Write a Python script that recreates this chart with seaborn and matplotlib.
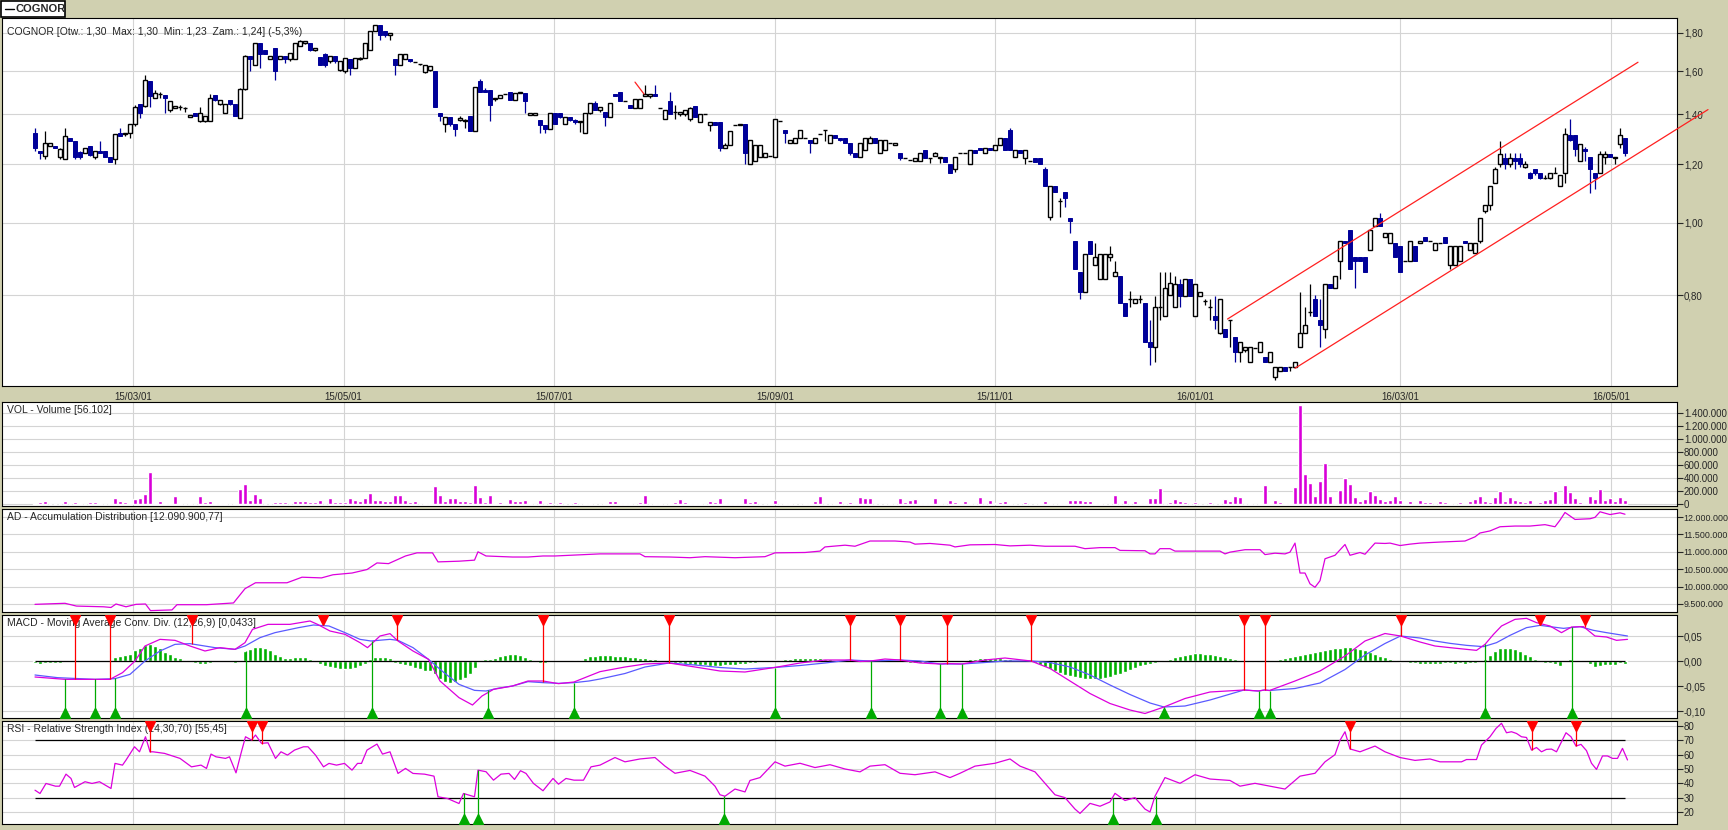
"""
COGNOR - wykres swiecowy z panelami VOL, AD, MACD, RSI
"""
import numpy as np
import matplotlib
matplotlib.use('Agg')
import matplotlib.pyplot as plt
import seaborn as sns
from matplotlib.ticker import NullLocator
from matplotlib.patches import Rectangle

sns.set_style('white')
plt.rcParams['font.family'] = ['Liberation Sans', 'DejaVu Sans']

# ---------------- dane ----------------
opens = [
    1.32, 1.25, 1.23, 1.27, 1.27, 1.225, 1.22, 1.30, 1.29, 1.245,
    1.24, 1.27, 1.225, 1.25, 1.25, 1.225, 1.22, 1.32, 1.315, 1.32,
    1.359, 1.446, 1.434, 1.549, 1.471, 1.49, 1.486, 1.42, 1.427, 1.43,
    1.427, 1.388, 1.406, 1.372, 1.372, 1.372, 1.486, 1.446, 1.406, 1.464,
    1.446, 1.385, 1.513, 1.675, 1.632, 1.745, 1.71, 1.658, 1.719, 1.662,
    1.675, 1.658, 1.658, 1.727, 1.745, 1.745, 1.707, 1.672, 1.684, 1.649,
    1.675, 1.603, 1.598, 1.658, 1.615, 1.658, 1.667, 1.71, 1.81, 1.844,
    1.81, 1.786, 1.658, 1.632, 1.662, 1.662, 1.646, 1.637, 1.593, 1.603,
    1.598, 1.406, 1.359, 1.388, 1.359, 1.376, 1.37, 1.392, 1.329, 1.549,
    1.509, 1.509, 1.467, 1.471, 1.49, 1.501, 1.464, 1.494, 1.494, 1.395,
    1.395, 1.376, 1.352, 1.339, 1.406, 1.406, 1.359, 1.388, 1.376, 1.366,
    1.32, 1.406, 1.449, 1.42, 1.41, 1.386, 1.491, 1.50, 1.46, 1.441,
    1.426, 1.426, 1.482, 1.482, 1.491, 1.426, 1.379, 1.46, 1.41, 1.40,
    1.40, 1.379, 1.437, 1.366, 1.40, 1.356, 1.366, 1.366, 1.261, 1.271,
    1.352, 1.355, 1.359, 1.199, 1.211, 1.228, 1.228, 1.231, 1.228, 1.37,
    1.332, 1.28, 1.28, 1.30, 1.30, 1.293, 1.28, 1.318, 1.335, 1.28,
    1.313, 1.30, 1.30, 1.28, 1.241, 1.228, 1.254, 1.28, 1.30, 1.241,
    1.254, 1.28, 1.271, 1.241, 1.221, 1.215, 1.211, 1.211, 1.254, 1.221,
    1.231, 1.221, 1.228, 1.199, 1.181, 1.241, 1.241, 1.199, 1.254, 1.261,
    1.241, 1.261, 1.254, 1.273, 1.30, 1.332, 1.228, 1.254, 1.221, 1.211,
    1.221, 1.221, 1.181, 1.02, 1.12, 1.07, 1.10, 1.017, 0.947, 0.86,
    0.808, 0.947, 0.879, 0.84, 0.84, 0.90, 0.85, 0.85, 0.781, 0.791,
    0.781, 0.791, 0.781, 0.692, 0.681, 0.771, 0.751, 0.80, 0.771, 0.829,
    0.799, 0.84, 0.751, 0.799, 0.785, 0.771, 0.751, 0.712, 0.721, 0.741,
    0.702, 0.671, 0.676, 0.651, 0.68, 0.671, 0.661, 0.651, 0.622, 0.632,
    0.641, 0.641, 0.641, 0.681, 0.712, 0.76, 0.791, 0.741, 0.721, 0.829,
    0.819, 0.888, 0.947, 0.978, 0.90, 0.90, 0.90, 0.92, 0.99, 1.017,
    0.958, 0.939, 0.939, 0.93, 0.888, 0.888, 0.93, 0.939, 0.958, 0.945,
    0.92, 0.939, 0.958, 0.879, 0.879, 0.888, 0.947, 0.92, 0.91, 0.947,
    1.039, 1.058, 1.133, 1.20, 1.221, 1.20, 1.221, 1.221, 1.19, 1.168,
    1.181, 1.168, 1.148, 1.148, 1.168, 1.122, 1.168, 1.311, 1.311, 1.211,
    1.258, 1.227, 1.168, 1.168, 1.227, 1.239, 1.221, 1.278, 1.30,
]
highs = [
    1.34, 1.25, 1.33, 1.28, 1.27, 1.26, 1.34, 1.30, 1.29, 1.25,
    1.26, 1.27, 1.25, 1.29, 1.25, 1.225, 1.318, 1.34, 1.32, 1.36,
    1.44, 1.446, 1.581, 1.549, 1.51, 1.50, 1.486, 1.46, 1.434, 1.44,
    1.43, 1.395, 1.406, 1.43, 1.392, 1.49, 1.486, 1.464, 1.446, 1.464,
    1.446, 1.52, 1.68, 1.675, 1.745, 1.745, 1.71, 1.675, 1.719, 1.675,
    1.675, 1.69, 1.745, 1.76, 1.754, 1.745, 1.719, 1.672, 1.69, 1.675,
    1.675, 1.649, 1.667, 1.66, 1.667, 1.67, 1.745, 1.81, 1.844, 1.844,
    1.81, 1.80, 1.66, 1.688, 1.684, 1.662, 1.646, 1.637, 1.632, 1.627,
    1.598, 1.406, 1.388, 1.388, 1.359, 1.39, 1.38, 1.392, 1.525, 1.56,
    1.52, 1.51, 1.471, 1.486, 1.49, 1.501, 1.494, 1.501, 1.494, 1.406,
    1.406, 1.376, 1.352, 1.406, 1.406, 1.406, 1.388, 1.388, 1.38, 1.372,
    1.406, 1.449, 1.46, 1.43, 1.41, 1.449, 1.491, 1.50, 1.46, 1.441,
    1.468, 1.468, 1.531, 1.491, 1.53, 1.426, 1.417, 1.50, 1.44, 1.41,
    1.417, 1.43, 1.437, 1.40, 1.40, 1.366, 1.366, 1.366, 1.28, 1.33,
    1.352, 1.359, 1.359, 1.293, 1.273, 1.273, 1.241, 1.231, 1.379, 1.37,
    1.332, 1.293, 1.30, 1.332, 1.30, 1.293, 1.30, 1.318, 1.335, 1.313,
    1.313, 1.30, 1.30, 1.28, 1.241, 1.28, 1.30, 1.31, 1.30, 1.293,
    1.293, 1.28, 1.28, 1.241, 1.221, 1.215, 1.221, 1.241, 1.254, 1.221,
    1.245, 1.228, 1.228, 1.199, 1.228, 1.241, 1.241, 1.254, 1.254, 1.261,
    1.261, 1.261, 1.273, 1.30, 1.30, 1.34, 1.254, 1.254, 1.254, 1.211,
    1.221, 1.221, 1.19, 1.12, 1.12, 1.08, 1.10, 1.017, 0.947, 0.86,
    0.908, 0.947, 0.939, 0.908, 0.908, 0.93, 0.888, 0.85, 0.781, 0.81,
    0.791, 0.80, 0.781, 0.741, 0.799, 0.859, 0.859, 0.859, 0.85, 0.84,
    0.84, 0.84, 0.829, 0.808, 0.79, 0.791, 0.799, 0.791, 0.721, 0.741,
    0.702, 0.692, 0.681, 0.681, 0.68, 0.692, 0.661, 0.671, 0.641, 0.641,
    0.641, 0.641, 0.651, 0.808, 0.771, 0.829, 0.80, 0.791, 0.829, 0.829,
    0.85, 0.947, 0.947, 0.978, 0.90, 0.90, 0.90, 0.978, 1.017, 1.03,
    0.968, 0.968, 0.939, 0.93, 0.888, 0.947, 0.93, 0.947, 0.958, 0.945,
    0.939, 0.939, 0.958, 0.93, 0.93, 0.93, 0.947, 0.939, 0.939, 1.017,
    1.058, 1.121, 1.19, 1.29, 1.24, 1.24, 1.24, 1.24, 1.21, 1.17,
    1.181, 1.168, 1.16, 1.168, 1.19, 1.16, 1.34, 1.38, 1.311, 1.278,
    1.265, 1.227, 1.168, 1.249, 1.25, 1.239, 1.227, 1.34, 1.30,
]
lows = [
    1.25, 1.22, 1.22, 1.27, 1.26, 1.22, 1.22, 1.29, 1.22, 1.22,
    1.24, 1.23, 1.22, 1.24, 1.225, 1.206, 1.20, 1.31, 1.31, 1.30,
    1.35, 1.385, 1.43, 1.431, 1.47, 1.47, 1.406, 1.41, 1.427, 1.42,
    1.41, 1.388, 1.392, 1.366, 1.366, 1.372, 1.46, 1.44, 1.406, 1.44,
    1.392, 1.385, 1.51, 1.598, 1.632, 1.615, 1.684, 1.658, 1.557, 1.66,
    1.64, 1.65, 1.658, 1.727, 1.74, 1.70, 1.70, 1.63, 1.62, 1.64,
    1.64, 1.60, 1.59, 1.581, 1.615, 1.655, 1.667, 1.71, 1.81, 1.762,
    1.78, 1.762, 1.581, 1.632, 1.66, 1.645, 1.646, 1.63, 1.59, 1.60,
    1.431, 1.37, 1.326, 1.35, 1.307, 1.37, 1.34, 1.329, 1.329, 1.50,
    1.50, 1.372, 1.46, 1.47, 1.49, 1.464, 1.464, 1.494, 1.406, 1.395,
    1.395, 1.32, 1.32, 1.339, 1.359, 1.385, 1.359, 1.37, 1.36, 1.326,
    1.32, 1.40, 1.42, 1.41, 1.348, 1.386, 1.482, 1.46, 1.46, 1.426,
    1.426, 1.426, 1.48, 1.47, 1.482, 1.426, 1.379, 1.40, 1.38, 1.39,
    1.39, 1.37, 1.389, 1.366, 1.40, 1.33, 1.355, 1.25, 1.261, 1.271,
    1.352, 1.355, 1.20, 1.199, 1.211, 1.228, 1.228, 1.231, 1.228, 1.37,
    1.28, 1.28, 1.28, 1.30, 1.30, 1.241, 1.28, 1.318, 1.29, 1.28,
    1.30, 1.29, 1.28, 1.235, 1.228, 1.228, 1.254, 1.28, 1.28, 1.241,
    1.254, 1.28, 1.271, 1.215, 1.221, 1.215, 1.211, 1.211, 1.221, 1.205,
    1.231, 1.205, 1.209, 1.168, 1.17, 1.241, 1.241, 1.199, 1.241, 1.254,
    1.241, 1.254, 1.254, 1.273, 1.254, 1.254, 1.228, 1.241, 1.20, 1.211,
    1.209, 1.199, 1.12, 1.01, 1.10, 1.02, 1.05, 0.968, 0.867, 0.791,
    0.808, 0.908, 0.879, 0.84, 0.84, 0.89, 0.85, 0.781, 0.751, 0.771,
    0.781, 0.781, 0.692, 0.645, 0.651, 0.741, 0.751, 0.80, 0.771, 0.771,
    0.799, 0.799, 0.751, 0.799, 0.775, 0.741, 0.721, 0.71, 0.702, 0.681,
    0.651, 0.651, 0.67, 0.651, 0.68, 0.671, 0.651, 0.651, 0.615, 0.632,
    0.632, 0.632, 0.641, 0.681, 0.712, 0.75, 0.751, 0.681, 0.70, 0.819,
    0.819, 0.84, 0.939, 0.867, 0.819, 0.888, 0.859, 0.92, 0.99, 0.99,
    0.958, 0.939, 0.90, 0.859, 0.888, 0.888, 0.888, 0.939, 0.947, 0.945,
    0.92, 0.939, 0.939, 0.867, 0.879, 0.888, 0.94, 0.92, 0.91, 0.94,
    1.03, 1.04, 1.133, 1.19, 1.18, 1.19, 1.18, 1.19, 1.185, 1.145,
    1.16, 1.145, 1.145, 1.145, 1.168, 1.12, 1.13, 1.29, 1.23, 1.211,
    1.21, 1.098, 1.11, 1.168, 1.20, 1.227, 1.20, 1.26, 1.23,
]
closes = [
    1.26, 1.24, 1.28, 1.28, 1.26, 1.257, 1.31, 1.29, 1.225, 1.225,
    1.26, 1.235, 1.25, 1.24, 1.225, 1.206, 1.318, 1.31, 1.32, 1.36,
    1.431, 1.406, 1.557, 1.479, 1.494, 1.49, 1.471, 1.456, 1.434, 1.43,
    1.427, 1.395, 1.392, 1.406, 1.392, 1.471, 1.464, 1.464, 1.446, 1.446,
    1.392, 1.513, 1.675, 1.658, 1.745, 1.684, 1.684, 1.675, 1.598, 1.675,
    1.658, 1.69, 1.745, 1.754, 1.754, 1.71, 1.719, 1.632, 1.632, 1.675,
    1.649, 1.649, 1.667, 1.615, 1.667, 1.667, 1.745, 1.81, 1.844, 1.786,
    1.786, 1.80, 1.632, 1.688, 1.684, 1.649, 1.646, 1.637, 1.632, 1.627,
    1.431, 1.392, 1.388, 1.359, 1.339, 1.385, 1.375, 1.329, 1.525, 1.501,
    1.501, 1.441, 1.471, 1.486, 1.49, 1.464, 1.494, 1.501, 1.456, 1.406,
    1.406, 1.352, 1.339, 1.406, 1.359, 1.388, 1.388, 1.376, 1.368, 1.372,
    1.406, 1.449, 1.42, 1.43, 1.386, 1.449, 1.482, 1.46, 1.46, 1.426,
    1.468, 1.468, 1.491, 1.491, 1.482, 1.426, 1.417, 1.40, 1.41, 1.41,
    1.417, 1.426, 1.389, 1.40, 1.40, 1.366, 1.355, 1.261, 1.271, 1.33,
    1.352, 1.359, 1.241, 1.293, 1.273, 1.273, 1.241, 1.231, 1.379, 1.37,
    1.32, 1.293, 1.30, 1.332, 1.30, 1.28, 1.30, 1.318, 1.335, 1.313,
    1.30, 1.293, 1.28, 1.241, 1.228, 1.28, 1.30, 1.30, 1.28, 1.293,
    1.293, 1.28, 1.28, 1.221, 1.221, 1.215, 1.221, 1.241, 1.221, 1.221,
    1.241, 1.228, 1.209, 1.168, 1.228, 1.241, 1.241, 1.254, 1.241, 1.254,
    1.261, 1.254, 1.273, 1.30, 1.254, 1.254, 1.254, 1.241, 1.254, 1.211,
    1.209, 1.199, 1.12, 1.12, 1.10, 1.07, 1.08, 1.006, 0.867, 0.808,
    0.908, 0.908, 0.90, 0.908, 0.908, 0.908, 0.859, 0.781, 0.751, 0.791,
    0.791, 0.791, 0.692, 0.681, 0.771, 0.771, 0.819, 0.83, 0.829, 0.799,
    0.84, 0.799, 0.829, 0.808, 0.785, 0.771, 0.741, 0.791, 0.702, 0.741,
    0.671, 0.692, 0.681, 0.681, 0.68, 0.692, 0.651, 0.671, 0.641, 0.641,
    0.632, 0.641, 0.651, 0.712, 0.730, 0.76, 0.751, 0.730, 0.829, 0.819,
    0.85, 0.947, 0.939, 0.867, 0.888, 0.888, 0.859, 0.978, 1.017, 0.99,
    0.968, 0.968, 0.90, 0.859, 0.888, 0.947, 0.888, 0.947, 0.947, 0.945,
    0.939, 0.939, 0.939, 0.93, 0.93, 0.93, 0.94, 0.939, 0.939, 1.017,
    1.058, 1.121, 1.181, 1.239, 1.20, 1.221, 1.211, 1.20, 1.20, 1.148,
    1.168, 1.148, 1.148, 1.168, 1.168, 1.16, 1.317, 1.294, 1.258, 1.278,
    1.249, 1.181, 1.148, 1.239, 1.239, 1.227, 1.227, 1.311, 1.24,
]

# wolumen w tys. sztuk
volume_k = [
    20, 26, 41, 0, 0, 0, 41, 0, 26, 15,
    0, 26, 26, 10, 0, 10, 92, 41, 26, 15,
    77, 92, 154, 492, 15, 41, 15, 15, 123, 15,
    0, 15, 0, 123, 26, 51, 15, 15, 15, 0,
    15, 231, 308, 62, 154, 92, 0, 0, 26, 26,
    26, 0, 51, 51, 51, 26, 26, 62, 0, 92,
    26, 26, 26, 92, 62, 41, 92, 169, 62, 62,
    41, 41, 139, 139, 62, 26, 51, 0, 15, 15,
    277, 139, 51, 92, 92, 41, 41, 26, 292, 103,
    26, 139, 15, 26, 15, 77, 51, 51, 62, 15,
    0, 62, 0, 26, 0, 26, 0, 0, 26, 0,
    15, 15, 0, 0, 15, 41, 41, 15, 15, 15,
    0, 26, 139, 0, 15, 15, 0, 15, 26, 77,
    26, 15, 15, 15, 0, 41, 26, 92, 15, 15,
    15, 15, 92, 26, 41, 0, 0, 15, 62, 0,
    15, 15, 0, 0, 15, 15, 41, 123, 0, 0,
    15, 41, 0, 26, 15, 103, 92, 92, 0, 0,
    0, 15, 0, 92, 26, 62, 77, 15, 15, 15,
    92, 15, 0, 62, 26, 15, 41, 15, 0, 103,
    0, 62, 15, 26, 41, 15, 0, 0, 26, 0,
    0, 15, 41, 15, 0, 15, 15, 62, 62, 62,
    41, 41, 15, 15, 0, 0, 139, 0, 62, 0,
    41, 15, 15, 92, 92, 246, 0, 26, 77, 41,
    26, 0, 26, 0, 0, 26, 0, 0, 77, 41,
    123, 103, 0, 15, 0, 15, 292, 15, 62, 26,
    15, 15, 262, 1524, 462, 323, 123, 354, 631, 123,
    15, 215, 400, 308, 108, 46, 77, 200, 139, 77,
    46, 62, 123, 62, 15, 46, 15, 62, 31, 31,
    0, 46, 31, 15, 0, 31, 15, 46, 77, 123,
    46, 31, 108, 200, 46, 108, 62, 46, 31, 62,
    15, 31, 62, 77, 200, 0, 292, 185, 92, 31,
    15, 123, 77, 231, 62, 92, 46, 108, 56.102,
]

# AD (mln) - punkty
ad_x = [0, 6, 8.3, 13.7, 15.2, 16.2, 18.2, 20.2, 22.1, 23.1, 27.4, 28.4, 34.3, 39.7,
        42, 44.1, 50.4, 53.4, 57.3, 59.6, 63.4, 66.4, 68.4, 70.7, 74.1, 76.4, 79.5,
        80.6, 84.8, 87.9, 88.6, 90.2, 95.5, 98.6, 101.6, 104, 113, 121, 122, 127,
        131, 134, 136, 140, 146, 148, 154, 157, 158, 162, 164, 167, 172, 175, 176,
        179, 183, 184, 187, 192, 195, 199, 202, 208, 210, 213, 216, 217, 222, 223,
        224, 225, 227, 228, 237, 238, 239, 242, 245, 246, 248, 250, 251, 252, 253,
        254, 255, 256, 257, 258, 260, 262, 263, 265, 266, 268, 270, 271, 273, 275,
        277, 281, 286, 288, 289, 291, 293, 296, 299, 302, 304, 305, 306, 308, 311,
        312, 313, 315, 317, 318]
ad_val = [9.49, 9.52, 9.44, 9.42, 9.40, 9.50, 9.42, 9.49, 9.50, 9.31, 9.33, 9.48, 9.48, 9.53,
          9.94, 10.11, 10.11, 10.27, 10.25, 10.34, 10.39, 10.49, 10.68, 10.66, 10.88, 10.97, 10.97,
          10.71, 10.73, 10.76, 11.00, 10.88, 10.85, 10.85, 10.88, 10.88, 10.94, 10.94, 10.86, 10.85,
          10.83, 10.86, 10.85, 10.83, 10.86, 10.97, 10.98, 11.02, 11.14, 11.19, 11.16, 11.31, 11.31, 11.28, 11.22,
          11.24, 11.19, 11.14, 11.20, 11.21, 11.17, 11.19, 11.16, 11.16, 11.09, 11.12, 11.12, 11.04, 11.03, 10.94,
          10.94, 11.09, 11.09, 11.02, 11.02, 10.94, 10.99, 11.06, 11.06, 10.92, 10.96, 10.94, 10.99, 11.25, 10.39,
          10.39, 10.08, 9.98, 10.17, 10.80, 10.90, 11.21, 10.90, 10.98, 10.93, 11.25, 11.24, 11.25, 11.18, 11.22,
          11.25, 11.28, 11.31, 11.43, 11.54, 11.60, 11.72, 11.74, 11.74, 11.78, 11.72, 11.91, 12.13, 11.93, 11.95,
          11.99, 12.15, 12.07, 12.12, 12.08]

# MACD - linia MACD i sygnalowa (punkty)
macd_x = [0, 6, 12, 15, 17.5, 20, 22, 25, 28, 31, 34, 37, 40, 42, 43.5, 46.6, 51, 55, 56.5,
          59, 62, 65, 66.5, 69, 71, 72.6, 75.6, 78.7, 81, 84.8, 87.5, 89.4, 91.7, 95.5, 98.6,
          101.6, 104.7, 107.8, 110.8, 113, 118, 122, 126.8, 132, 137, 142, 147.9, 153, 158,
          163, 165, 167.1, 170, 173, 177, 181, 182.3, 185.4, 190, 194, 199.2, 203, 207, 211,
          215, 219, 222, 225.8, 230, 235, 241.8, 244.7, 245.9, 246.9, 252, 257, 262, 266, 270,
          273.1, 277, 280, 283, 286.3, 288.3, 290, 291.7, 293.3, 296, 298.3, 300.3,
          303, 305.3, 307.3, 309.7, 312, 314.3, 316.3, 318.5]
macd_val = [-0.032, -0.0367, -0.0367, -0.0367, -0.0233, 0.0, 0.030, 0.0433, 0.0413, 0.030, 0.020,
            0.0267, 0.0233, 0.0367, 0.0633, 0.0733, 0.0733, 0.080, 0.0733, 0.060, 0.0533, 0.0367,
            0.0267, 0.050, 0.0547, 0.040, 0.020, 0.0033, -0.040, -0.0733, -0.088, -0.070, -0.0567,
            -0.050, -0.040, -0.040, -0.0453, -0.042, -0.030, -0.0213, -0.012, -0.006, -0.004,
            -0.012, -0.020, -0.022, -0.013, -0.004, 0.002, 0.002, -0.001, 0.0, 0.004, 0.002,
            -0.004, -0.006, -0.005, -0.006, 0.002, 0.006, 0.0, -0.015, -0.040, -0.065, -0.085,
            -0.098, -0.105, -0.092, -0.075, -0.062, -0.058, -0.060, -0.058, -0.059, -0.040,
            -0.020, 0.010, 0.040, 0.055, 0.050, 0.038, 0.030, 0.0267,
            0.0233, 0.0213, 0.0333, 0.0533, 0.070, 0.0833, 0.0853, 0.0767, 0.070, 0.0567, 0.068,
            0.0687, 0.050, 0.048, 0.0413, 0.0433]
signal_x = [0, 4.5, 12, 16, 19, 22, 25, 28, 31, 36, 40, 42, 45, 48, 52.7, 55.7, 58.8, 62, 65,
            67.2, 71, 72.6, 75.6, 78.7, 81.8, 84.8, 87.9, 90.2, 92.5, 95.5, 98.6, 101.6, 104.7,
            107.8, 110.8, 113, 118, 122, 126.8, 132, 137, 142, 147.9, 153, 158, 163, 167.1, 173,
            177, 181, 185.4, 190, 194, 199.2, 203, 207, 211, 215, 219, 223, 225.8, 230, 235,
            241.8, 244.7, 245.9, 246.9, 252, 257, 262, 266, 270, 273.1, 277, 280,
            283, 286.3, 289.7, 292.3, 295, 298.3, 301, 303, 305.7, 309, 311.7, 314.3, 318.5]
signal_val = [-0.028, -0.0333, -0.0367, -0.0353, -0.0267, 0.0, 0.020, 0.0333, 0.0347, 0.0267,
              0.0233, 0.030, 0.0467, 0.0567, 0.0667, 0.072, 0.070, 0.0567, 0.0433, 0.040, 0.0433,
              0.0413, 0.0267, 0.0033, -0.0233, -0.0467, -0.0587, -0.060, -0.0547, -0.050, -0.0413,
              -0.0433, -0.0447, -0.0433, -0.040, -0.036, -0.025, -0.012, -0.004, -0.008, -0.013,
              -0.016, -0.013, -0.009, -0.004, 0.002, 0.0, 0.002, 0.0, -0.006, -0.006, -0.003, 0.0,
              0.0, -0.003, -0.012, -0.028, -0.048, -0.067, -0.084, -0.092, -0.090, -0.078,
              -0.058, -0.060, -0.058, -0.059, -0.055, -0.044, -0.017, 0.012, 0.035, 0.050, 0.046,
              0.040, 0.0353, 0.0313, 0.0287, 0.0367, 0.0513, 0.0667, 0.0713, 0.0687, 0.0653,
              0.0687, 0.0613, 0.0567, 0.050]

macd_hist = [
    -0.004, -0.005, -0.004, -0.004, -0.003, -0.003, 0, 0.003, 0, 0,
    0, 0, 0, 0, 0, 0, 0.008, 0.010, 0.012, 0.0147,
    0.0213, 0.0267, 0.032, 0.0333, 0.030, 0.0267, 0.0187, 0.0133, 0.008, 0.0053,
    0.0027, 0, -0.004, -0.0053, -0.0067, -0.004, 0, 0, 0, 0,
    -0.0047, 0, 0.020, 0.0233, 0.028, 0.028, 0.0267, 0.0213, 0.0133, 0.010,
    0.0067, 0.0067, 0.008, 0.008, 0.008, 0.0033, 0, -0.0067, -0.010, -0.012,
    -0.0133, -0.0153, -0.0167, -0.0167, -0.0133, -0.0107, -0.0053, 0.0033, 0.008, 0.008,
    0.008, 0.0067, -0.004, -0.0067, -0.0087, -0.0107, -0.0133, -0.0167, -0.020, -0.020,
    -0.0267, -0.0367, -0.042, -0.0433, -0.042, -0.0387, -0.0333, -0.0267, -0.0133, -0.002,
    0.0033, 0.0033, 0.0053, 0.010, 0.012, 0.0133, 0.0133, 0.012, 0.008, 0.0033,
    0, -0.004, -0.004, -0.0027, 0, 0, 0, 0, 0.0013, 0.0013,
    0.0067, 0.010, 0.010, 0.012, 0.012, 0.012, 0.011, 0.010, 0.010, 0.009,
    0.008, 0.007, 0.006, 0.005, 0.004, 0.002, 0.001, -0.002, -0.003, -0.004,
    -0.005, -0.006, -0.007, -0.008, -0.008, -0.009, -0.009, -0.009, -0.008, -0.008,
    -0.007, -0.006, -0.005, -0.004, -0.003, -0.002, -0.001, -0.001, 0.002, 0.003,
    0.004, 0.005, 0.006, 0.006, 0.007, 0.007, 0.006, 0.006, 0.005, 0.004,
    0.003, 0.002, 0.001, -0.001, -0.002, -0.002, -0.001, 0.001, 0.002, 0.003,
    0.003, 0.002, 0.001, -0.001, -0.002, -0.003, -0.004, -0.004, -0.003, -0.002,
    -0.001, 0.001, -0.001, -0.001, -0.001, 0.001, 0.002, 0.004, 0.005, 0.006,
    0.007, 0.007, 0.007, 0.006, 0.005, 0.004, 0.003, 0.002, 0.001, -0.001,
    -0.004, -0.008, -0.012, -0.016, -0.020, -0.024, -0.027, -0.030, -0.032, -0.034,
    -0.035, -0.036, -0.036, -0.035, -0.033, -0.031, -0.028, -0.025, -0.021, -0.017,
    -0.013, -0.010, -0.007, -0.005, -0.003, -0.001, 0.002, 0.005, 0.008, 0.011,
    0.013, 0.015, 0.016, 0.016, 0.015, 0.014, 0.012, 0.010, 0.008, 0.006,
    0.004, 0.002, -0.001, -0.002, -0.001, 0.001, -0.001, 0.001, 0.002, 0.004,
    0.006, 0.008, 0.010, 0.012, 0.014, 0.016, 0.018, 0.020, 0.022, 0.024,
    0.026, 0.027, 0.028, 0.028, 0.027, 0.025, 0.022, 0.019, 0.015, 0.011,
    0.008, 0.005, 0.002, -0.001, -0.002, -0.003, -0.004, -0.005, -0.006, -0.006,
    -0.006, -0.005, -0.004, -0.0033, -0.0067, -0.0033, -0.0067, -0.0033, -0.0033, 0,
    0.0047, 0.012, 0.020, 0.0253, 0.0253, 0.0253, 0.0233, 0.020, 0.0147, 0.010,
    0.0033, 0, -0.0033, -0.0033, -0.0053, -0.010, 0, 0.0047, 0.002, 0.002,
    0, -0.0053, -0.012, -0.010, -0.0087, -0.0087, -0.0087, -0.0033, -0.0053,
]
macd_sell = [(8, -0.0367), (15, -0.0367), (31.3, 0.0333), (57.5, 0.0733), (72.4, 0.0413),
             (101.6, -0.042), (126.8, -0.004), (163, 0.002), (173, 0.002), (182.3, -0.005),
             (199.2, 0.0), (241.8, -0.058), (245.9, -0.058), (273.1, 0.05), (301, 0.072), (310, 0.068)]
macd_buy = [(6, -0.0367), (12, -0.0367), (16, -0.0333), (42.2, 0.020), (67.4, 0.040),
            (90.6, -0.0587), (107.8, -0.0433), (147.9, -0.013), (167.1, 0.0), (181, -0.006),
            (185.4, -0.006), (225.8, -0.092), (244.7, -0.06), (246.9, -0.059), (290, 0.0333),
            (307.3, 0.0687)]

# RSI
rsi_x = [0, 1, 2.2, 4.1, 4.9, 6.2, 7.2, 7.9, 10, 11.4, 12.9, 15.2, 16, 17.5, 18.2, 19.9, 20.9,
         22.1, 23, 23.6, 25.9, 29, 31.3, 33.2, 34.3, 35.2, 36.2, 38.1, 38.9, 40.2, 41.2, 42.1,
         43.3, 44.1, 45.3, 46.6, 48.1, 49.2, 50.5, 51.9, 53.7, 54.6, 56.1, 57.7, 58.8, 60.3,
         61.9, 63.4, 64.5, 65.3, 66.4, 68.4, 69.5, 71, 72.6, 74.1, 75.6, 77.9, 79.8, 80.6, 82.5,
         84.8, 85.7, 87.9, 88.6, 90.2, 91.7, 93.2, 94.8, 95.9, 97.1, 98.2, 99.7, 101.6, 103.6,
         104.7, 106.2, 107.8, 109.7, 111.2, 113, 116, 118, 121, 124, 126, 128, 131, 134, 136,
         137, 138, 140, 142, 143, 145, 148, 150, 153, 156, 159, 162, 165, 167, 170, 173, 176,
         180, 183, 185, 188, 192, 195, 197, 200, 202, 204, 206, 208, 209, 211, 213, 215, 216,
         218, 220, 222, 223, 224, 226, 229, 232, 235, 239, 241, 244, 247, 250, 253, 256, 258,
         260, 261, 262, 263, 265, 268, 270, 273, 276, 279, 281, 283, 285.3,
         286.3, 288.3, 289.3, 291, 292.2, 293.3, 294.3, 295.3, 296.3, 297.3, 298.3, 299.3, 300.3,
         301.3, 302.3, 303.3, 304.3, 306.2, 307.2, 308.2, 309.2, 310.3, 311.3, 312.3, 313.5,
         314.5, 315.5, 316.5, 317.5, 318.5]
rsi_val = [35.2, 32.9, 39.9, 38.0, 38.0, 46.4, 43.4, 37.1, 41.1, 39.9, 41.1, 36.4, 53.9, 52.7,
           56.2, 65.5, 62.0, 72.5, 62.0, 62.0, 60.9, 57.4, 51.5, 52.7, 50.4, 60.4, 58.5, 57.4,
           58.5, 47.3, 60.9, 72.5, 70.2, 73.7, 67.9, 68.3, 57.4, 62.0, 59.7, 63.2, 65.5, 65.5,
           59.7, 51.5, 53.9, 52.7, 53.9, 49.2, 53.9, 53.9, 63.2, 67.4, 60.4, 62.0, 46.9, 50.4,
           46.9, 46.4, 45.0, 30.6, 29.4, 25.9, 32.9, 30.6, 49.2, 48.1, 42.2, 46.4, 46.9, 42.7,
           48.8, 46.9, 39.9, 34.8, 43.4, 39.4, 43.4, 42.2, 42.2, 51.5, 52.7, 58, 55, 57, 58, 52,
           47, 49, 45, 38, 32, 31, 36, 34, 42, 44, 55, 52, 54, 51, 53, 50, 48, 52, 53, 47, 46,
           48, 44, 47, 52, 54, 57, 52, 48, 40, 32, 30, 22, 19, 26, 24, 27, 33,
           28, 30, 22, 20, 31, 44, 40, 46, 43, 42, 38, 40, 38, 36, 45, 47, 55,
           60, 70, 76, 64, 62, 66, 62, 58, 56, 57, 55, 55.0, 55.0,
           56.6, 56.6, 66.7, 72.5, 78.3, 81.9, 75.3, 76.0, 74.8, 72.5, 72.0, 63.2, 65.0, 62.0,
           63.7, 63.9, 62.0, 75.3, 72.5, 66.0, 67.2, 62.8, 54.0, 49.7, 59.1, 59.1, 57.4, 57.4,
           64.4, 56.3]
rsi_sell = [(23, 62.0), (43.3, 70.2), (45.3, 67.4), (263, 64.0), (299.3, 63.2), (308.2, 66.0)]
rsi_buy = [(85.7, 32.9), (88.6, 49.2), (137.8, 31.0), (215.6, 30.0), (224.2, 31.0)]

# linie kanalu trendu i strzalka
channel_upper_x = [238.5, 320.6]
channel_upper_y = [0.743, 1.644]
channel_lower_x = [252.0, 334.6]
channel_lower_y = [0.638, 1.42]
arrow_x = [120.0, 121.8]
arrow_y = [1.546, 1.49]

date_pos = [19.6, 61.7, 103.8, 148, 192, 232, 273, 315.2]
date_labels = ['15/03/01', '15/05/01', '15/07/01', '15/09/01',
               '15/11/01', '16/01/01', '16/03/01', '16/05/01']

price_ticks = [0.8, 1.0, 1.2, 1.4, 1.6, 1.8]
price_labels = ['0,80', '1,00', '1,20', '1,40', '1,60', '1,80']
vol_ticks = [0, 200, 400, 600, 800, 1000, 1200, 1400]
vol_labels = ['0', '200.000', '400.000', '600.000', '800.000', '1.000.000', '1.200.000', '1.400.000']
ad_ticks = [9.5, 10.0, 10.5, 11.0, 11.5, 12.0]
ad_labels = ['9.500.000', '10.000.000', '10.500.000', '11.000.000', '11.500.000', '12.000.000']
macd_ticks = [-0.10, -0.05, 0.0, 0.05]
macd_labels = ['-0,10', '-0,05', '0,00', '0,05']
rsi_ticks = [20, 30, 40, 50, 60, 70, 80]
rsi_labels = ['20', '30', '40', '50', '60', '70', '80']

# ---------------- rysunek ----------------
BG = '#d0d0b0'
BLUE = '#000099'
MAG = '#dd00dd'
W, H = 1728, 830

opens, highs, lows, closes = map(np.array, (opens, highs, lows, closes))
n = len(closes)
idx = np.arange(n)
xlim = (-6.6, 328.4)

fig = plt.figure(figsize=(W / 100, H / 100), dpi=100)
fig.patch.set_facecolor(BG)


def panel(top_px, bottom_px):
    ax = fig.add_axes([2 / W, 1 - bottom_px / H, (1677 - 2) / W, (bottom_px - top_px) / H])
    ax.set_facecolor('white')
    for s in ax.spines.values():
        s.set_linewidth(0.8)
        s.set_color('black')
    ax.set_xlim(*xlim)
    ax.set_xticks(date_pos)
    ax.yaxis.tick_right()
    ax.tick_params(axis='y', direction='out', length=4, width=0.8, labelsize=7, pad=1)
    ax.tick_params(axis='x', length=0, labelbottom=False)
    ax.grid(True, color='#d4d4d4', lw=0.8)
    ax.set_axisbelow(True)
    return ax


def title(ax, txt):
    ax.text(0.003, 0.975, txt, transform=ax.transAxes, ha='left', va='top', fontsize=7.5)


def markers(ax, sells, buys, top, bottom):
    for x, v in sells:
        ax.vlines(x, v, top, color='#ff0000', lw=0.9, zorder=4)
        ax.plot(x, 0.955, marker='v', ms=6.5, color='#ff0000', transform=ax.get_xaxis_transform(), zorder=5)
    for x, v in buys:
        ax.vlines(x, bottom, v, color='#00aa00', lw=0.9, zorder=4)
        ax.plot(x, 0.045, marker='^', ms=6.5, color='#00aa00', transform=ax.get_xaxis_transform(), zorder=5)


# --- panel cenowy ---
ax = panel(18, 386)
ax.set_yscale('log')
ax.set_ylim(0.604, 1.885)
ax.set_yticks(price_ticks)
ax.set_yticklabels(price_labels)
ax.yaxis.set_minor_locator(NullLocator())
up = closes >= opens
dn = ~up
ax.vlines(idx[up], lows[up], highs[up], color='black', lw=0.9, zorder=2)
ax.vlines(idx[dn], lows[dn], highs[dn], color=BLUE, lw=0.9, zorder=2)
ax.bar(idx[up], closes[up] - opens[up], bottom=opens[up], width=0.78,
       facecolor='white', edgecolor='black', lw=1.0, zorder=3)
ax.bar(idx[dn], opens[dn] - closes[dn], bottom=closes[dn], width=0.78,
       facecolor=BLUE, edgecolor=BLUE, lw=0.7, zorder=3)
ax.plot(channel_upper_x, channel_upper_y, color='#ff2020', lw=0.9, zorder=4)
ax.plot(channel_lower_x, channel_lower_y, color='#ff2020', lw=0.9, zorder=4, clip_on=False)
ax.plot(arrow_x, arrow_y, color='#ff2020', lw=0.9, zorder=4)
ax.set_xticklabels(date_labels)
ax.tick_params(axis='x', labelbottom=True, labelsize=7, pad=4)
title(ax, 'COGNOR [Otw.: 1,30  Max: 1,30  Min: 1,23  Zam.: 1,24] (-5,3%)')

# --- wolumen ---
ax = panel(402, 506)
ax.bar(idx, volume_k, width=0.62, color='#d800d8', zorder=3)
ax.set_ylim(-31, 1569)
ax.set_yticks(vol_ticks)
ax.set_yticklabels(vol_labels)
title(ax, 'VOL - Volume [56.102]')

# --- AD ---
ax = panel(509, 612)
sns.lineplot(x=ad_x, y=ad_val, ax=ax, color=MAG, lw=0.9, estimator=None, sort=False)
ax.set_ylim(9.27, 12.23)
ax.set_yticks(ad_ticks)
ax.set_yticklabels(ad_labels)
ax.tick_params(axis='y', labelsize=6.4, pad=0.5)
ax.set_xlim(*xlim)
title(ax, 'AD - Accumulation Distribution [12.090.900,77]')

# --- MACD ---
ax = panel(615, 718)
ax.bar(idx, macd_hist, width=0.62, color='#00b000', zorder=3)
ax.hlines(0, 0, n - 1, color='black', lw=0.9, zorder=3)
sns.lineplot(x=signal_x, y=signal_val, ax=ax, color='#5a5aff', lw=0.9, estimator=None, sort=False, zorder=4)
sns.lineplot(x=macd_x, y=macd_val, ax=ax, color=MAG, lw=0.9, estimator=None, sort=False, zorder=4)
ax.set_ylim(-0.114, 0.092)
markers(ax, macd_sell, macd_buy, 0.092, -0.114)
ax.set_yticks(macd_ticks)
ax.set_yticklabels(macd_labels)
ax.set_xlim(*xlim)
title(ax, 'MACD - Moving Average Conv. Div. (12,26,9) [0,0433]')

# --- RSI ---
ax = panel(721, 824)
ax.hlines([30, 70], 0, n - 1, color='black', lw=0.9, zorder=3)
sns.lineplot(x=rsi_x, y=rsi_val, ax=ax, color=MAG, lw=0.9, estimator=None, sort=False, zorder=4)
ax.set_ylim(11.6, 83.5)
markers(ax, rsi_sell, rsi_buy, 83.5, 11.6)
ax.set_yticks(rsi_ticks)
ax.set_yticklabels(rsi_labels)
ax.set_xlim(*xlim)
title(ax, 'RSI - Relative Strength Index (14,30,70) [55,45]')

# --- legenda w lewym gornym rogu ---
fig.add_artist(Rectangle((1 / W, 1 - 17 / H), 64 / W, 16 / H, transform=fig.transFigure,
                         facecolor='white', edgecolor='black', lw=1.2))
fig.add_artist(plt.Line2D([5 / W, 14 / W], [1 - 9 / H, 1 - 9 / H], transform=fig.transFigure,
                          color='black', lw=1))
fig.text(15 / W, 1 - 9 / H, 'COGNOR', fontsize=8, fontweight='bold', va='center', ha='left')

fig.savefig('out.png', dpi=100, facecolor=BG)
